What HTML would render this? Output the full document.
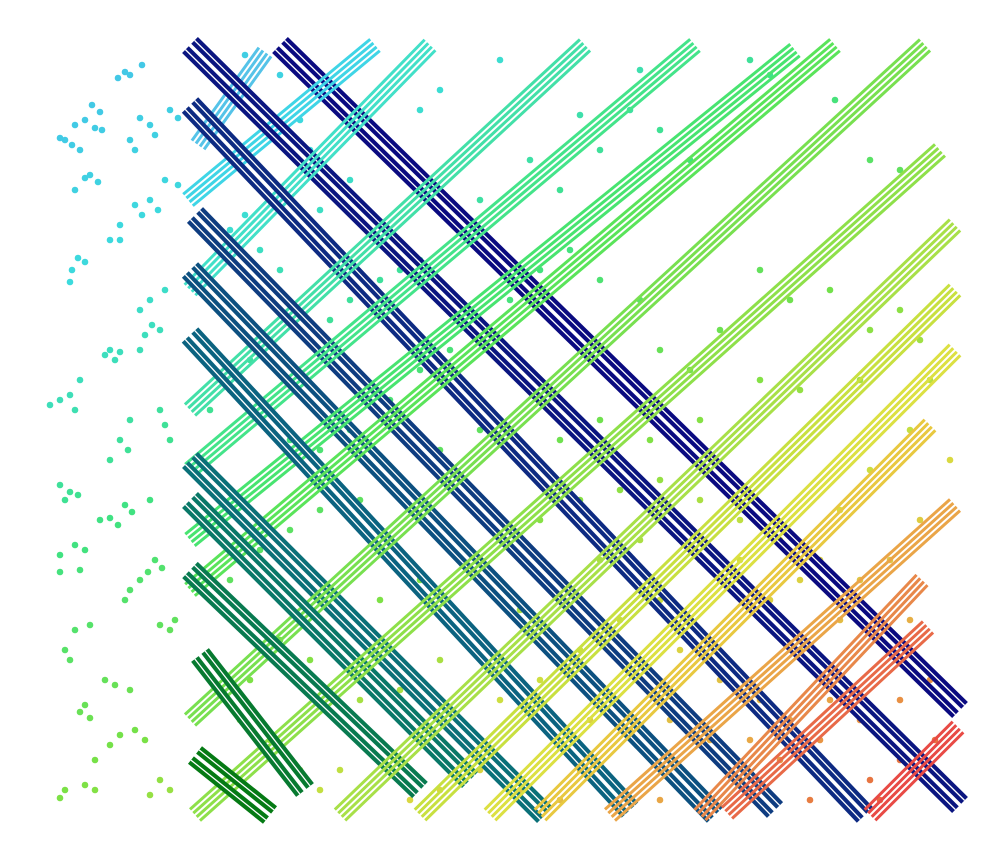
<!DOCTYPE html>
<html><head><meta charset="utf-8"><style>
html,body{margin:0;padding:0;background:#fff;width:1000px;height:858px;overflow:hidden}
svg{display:block}
</style></head><body>
<svg id="chart" width="1000" height="858" viewBox="0 0 1000 858" xmlns="http://www.w3.org/2000/svg">
<g id="dots"></g>
<g id="bands"></g>
</svg>
<script>
// "/" groups: start (x1,y1) -> end (x2,y2), colour
const upX1=[198,188,190,190,190,190,190,190,195,340,420,490,540,610,700,727,870];
const upY1=[145,200,290,410,470,540,590,720,815,815,815,815,815,815,815,813,815];
const upX2=[265,375,430,585,695,795,835,925,940,955,955,955,930,955,922,928,958];
const upY2=[52,45,45,45,45,50,45,45,150,225,290,350,425,505,580,627,727];
const upColors=["#55c3e8","#3fd5e6","#42e0c8","#43e0a8","#44e48a","#48e470","#5ae45a","#78e050","#8ee04a","#a8e048","#c8e040","#dce042","#e8c840","#eaa548","#e8884a","#e86a48","#e84a45"];
// "\" groups
const dnX1=[280,190,190,195,190,190,190,190,190,200,195];
const dnY1=[45,45,105,215,270,335,460,500,570,655,755];
const dnX2=[960,960,865,775,715,630,545,470,420,305,270];
const dnY2=[710,805,815,810,815,810,815,780,790,790,815];
const dnColors=["#0a0a80","#0a1580","#0d2a82","#0e3c80","#0c5080","#0b6380","#0a7078","#097868","#087a50","#077a30","#057a14"];
// scatter points
const dotX=[118,130,142,125,92,100,85,95,75,102,65,72,60,80,140,150,155,130,135,170,178,90,98,75,85,165,178,150,158,135,142,120,110,78,85,72,70,120,165,150,140,152,145,160,110,105,120,115,140,60,70,50,75,80,130,160,165,120,128,110,170,60,70,65,78,125,132,110,118,100,150,75,85,60,155,162,148,140,130,125,80,60,175,170,160,90,75,65,70,105,115,130,85,80,90,120,135,145,110,95,65,60,85,95,160,170,150,
245,280,300,310,270,245,230,260,290,320,310,280,350,380,420,440,500,530,560,600,630,660,690,750,770,835,870,900,640,580,480,460,420,400,380,350,330,300,270,250,230,210,260,290,320,350,390,420,450,480,510,540,570,600,640,660,690,720,760,790,830,870,900,920,930,860,800,760,700,650,600,560,520,480,440,400,360,320,290,260,230,210,250,280,310,340,380,420,460,500,540,580,620,660,700,740,780,820,860,890,920,950,910,870,840,800,770,740,700,660,620,580,540,500,460,420,380,340,320,300,270,240,220,250,360,400,440,480,520,560,600,640,680,720,760,800,840,880,910,930,900,860,820,780,740,700,660,620,580,560,520,480,440,410,590,630,670,710,750,790,830,870,900,935,880,810];
const dotY=[78,75,65,72,105,112,120,128,125,130,140,145,138,150,118,125,135,140,150,110,118,175,182,190,178,180,185,200,210,205,215,225,240,258,262,270,282,240,290,300,310,325,335,330,350,355,352,360,350,400,395,405,410,380,420,410,425,440,450,460,440,485,492,500,495,505,512,518,525,520,500,545,550,555,560,568,572,580,590,600,570,572,620,630,625,625,630,650,660,680,685,690,705,712,718,735,730,740,745,760,790,798,785,790,780,790,795,
55,75,120,150,180,215,230,250,200,210,240,270,180,150,110,90,60,160,190,150,110,130,160,60,75,100,160,170,70,115,200,210,260,270,280,300,320,330,340,360,390,410,420,440,450,430,400,370,350,320,300,270,250,280,300,350,370,330,270,300,290,330,310,340,380,380,390,380,420,440,420,440,460,430,450,480,500,510,530,550,580,600,620,640,660,620,600,580,560,540,520,500,490,480,500,520,540,560,580,560,520,460,430,470,510,580,600,560,560,600,620,650,680,700,720,740,760,770,790,770,740,720,690,680,700,690,660,640,610,580,560,540,650,680,700,650,620,640,620,680,700,720,740,760,780,790,800,790,770,800,790,770,790,800,720,730,720,740,740,720,700,780,760,740,800,800];

const NS='http://www.w3.org/2000/svg';
const stops=[[0,[70,190,235]],[0.2,[60,220,220]],[0.38,[64,226,130]],[0.55,[120,225,70]],[0.7,[215,222,64]],[0.82,[232,170,70]],[1,[230,60,60]]];
function cmap(t){t=Math.max(0,Math.min(1,t));for(let i=1;i<stops.length;i++){if(t<=stops[i][0]){const a=stops[i-1],b=stops[i];const f=(t-a[0])/(b[0]-a[0]);const c=a[1].map((v,k)=>Math.round(v+(b[1][k]-v)*f));return `rgb(${c[0]},${c[1]},${c[2]})`;}}return 'rgb(230,60,60)';}
function dotColor(x,y){return cmap((x*0.62+y-60)/1390);}

const dg=document.getElementById('dots');
for(let i=0;i<dotX.length;i++){
  const c=document.createElementNS(NS,'circle');
  
  
  c.setAttribute('cx',dotX[i]);c.setAttribute('cy',dotY[i]);c.setAttribute('r',3.3);
  c.setAttribute('fill',dotColor(dotX[i],dotY[i]));
  dg.appendChild(c);
}
const bg=document.getElementById('bands');
function line(g,x1,y1,x2,y2,col,w){
  const l=document.createElementNS(NS,'line');
  l.setAttribute('x1',x1);l.setAttribute('y1',y1);l.setAttribute('x2',x2);l.setAttribute('y2',y2);
  l.setAttribute('stroke',col);l.setAttribute('stroke-width',w);
  g.appendChild(l);
}
function perp(x1,y1,x2,y2){const dx=x2-x1,dy=y2-y1,L=Math.hypot(dx,dy);return [-dy/L,dx/L];}
function upGroup(i){
  const g=document.createElementNS(NS,'g');
  
  
  const [px,py]=perp(upX1[i],upY1[i],upX2[i],upY2[i]);
  [-7.5,-2.5,2.5,7.5].forEach(o=>line(g,upX1[i]+px*o,upY1[i]+py*o,upX2[i]+px*o,upY2[i]+py*o,upColors[i],3));
  bg.appendChild(g);
}
function dnGroup(i){
  const g=document.createElementNS(NS,'g');
  
  
  const [px,py]=perp(dnX1[i],dnY1[i],dnX2[i],dnY2[i]);
  [-6.5,6.5].forEach(o=>{
    line(g,dnX1[i]+px*o,dnY1[i]+py*o,dnX2[i]+px*o,dnY2[i]+py*o,dnColors[i],9.5);
    line(g,dnX1[i]+px*o,dnY1[i]+py*o,dnX2[i]+px*o,dnY2[i]+py*o,'#ffffff',1.3);
  });
  bg.appendChild(g);
}
const n=Math.max(upX1.length,dnX1.length);
for(let i=0;i<n;i++){ if(i<upX1.length) upGroup(i); if(i<dnX1.length) dnGroup(i); }
</script>
</body></html>
